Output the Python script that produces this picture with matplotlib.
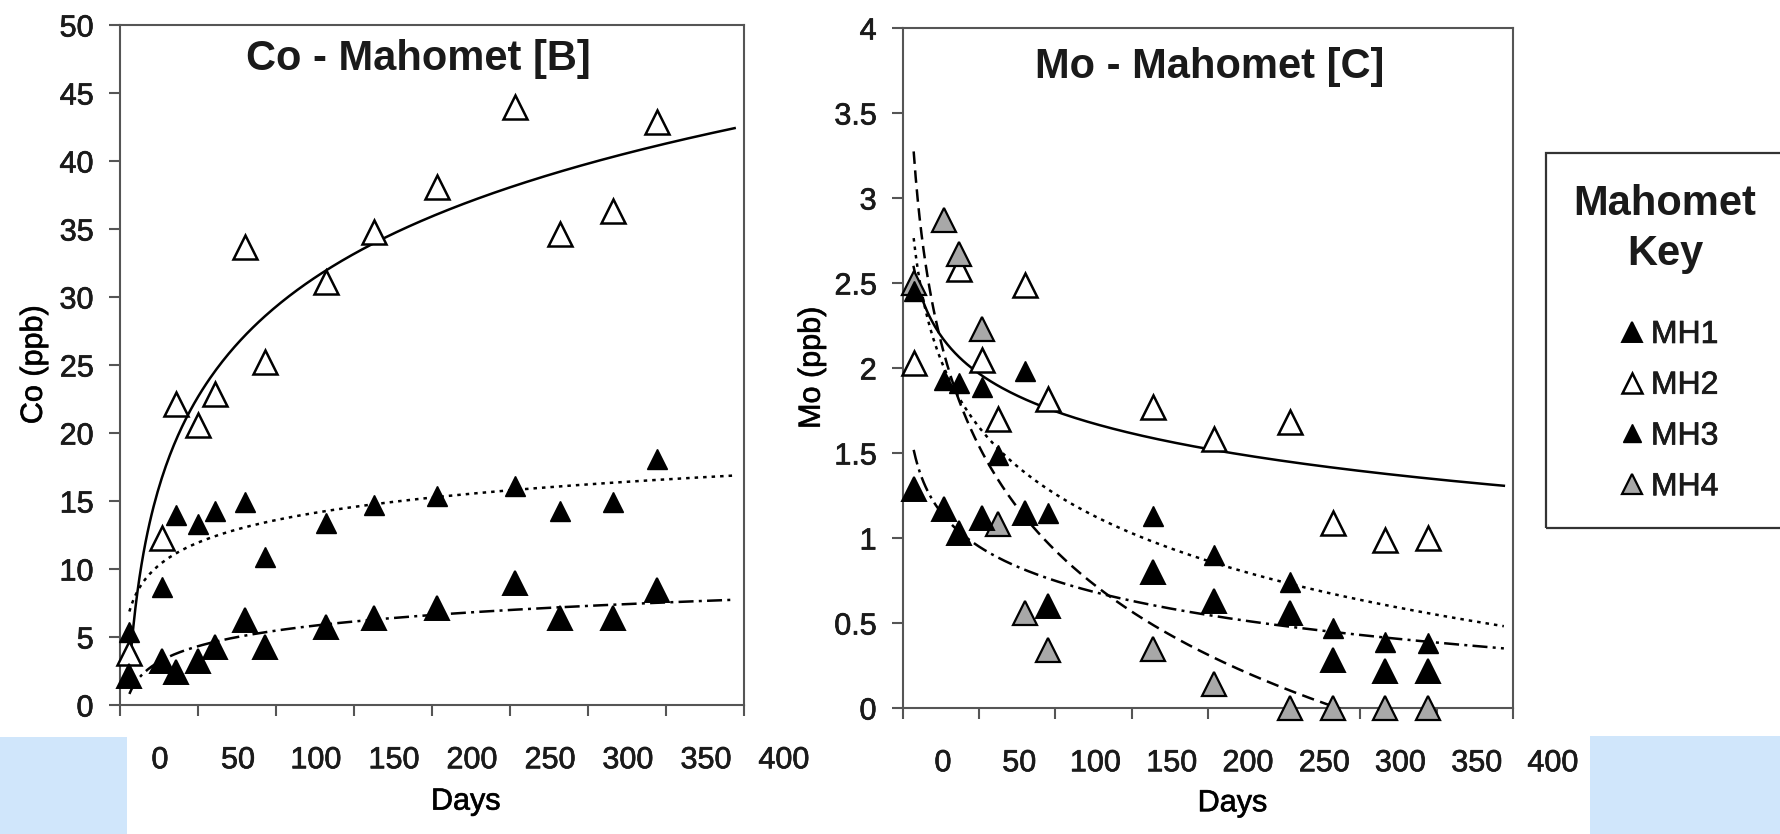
import numpy as np
import matplotlib
matplotlib.use("Agg")
import matplotlib.pyplot as plt
import matplotlib.patheffects as pe
from matplotlib.patches import Rectangle
from matplotlib.ticker import FuncFormatter
from matplotlib.transforms import ScaledTranslation

plt.rcParams["font.family"] = ["Liberation Sans", "DejaVu Sans"]
plt.rcParams["text.color"] = "#1a1a1a"

W, H, DPI = 1781, 834, 100

# sampling days and concentrations (ppb) for the Mahomet wells
co_days = np.array([6, 27, 36, 50, 61, 80, 93, 132, 163, 203, 253, 282, 316, 344])
co_mh1 = np.array([2.1, 3.2, 2.45, 3.2, 4.3, 6.25, 4.3, 5.75, 6.4, 7.1, 8.95, 6.4, 6.4, 8.45])
co_mh2 = np.array([3.8, 12.3, 22.1, 20.6, 22.9, 33.7, 25.2, 31.1, 34.8, 38.1, 44.0, 34.6, 36.3, 42.9])
co_mh3 = np.array([5.4, 8.7, 14.0, 13.3, 14.3, 14.9, 10.9, 13.4, 14.7, 15.4, 16.1, 14.3, 14.95, 18.1])

mo_days = np.array([7, 27, 37, 52, 62, 80, 95, 164, 204, 254, 282, 316, 344])
mo_mh1 = np.array([1.29, 1.17, 1.03, 1.12, np.nan, 1.15, 0.60, 0.80, 0.63, 0.56, 0.28, 0.22, 0.22])
mo_mh2 = np.array([2.03, np.nan, 2.58, 2.05, 1.70, 2.49, 1.82, 1.77, 1.58, 1.68, 1.09, 0.99, 1.00])
mo_mh3 = np.array([2.45, 1.93, 1.91, 1.89, 1.49, 1.98, 1.15, 1.13, 0.90, 0.74, 0.47, 0.39, 0.38])
mo_mh4 = np.array([2.50, 2.87, 2.67, 2.23, 1.08, 0.56, 0.34, 0.35, 0.14, 0.0, 0.0, 0.0, 0.0])

day_ticks = [0, 50, 100, 150, 200, 250, 300, 350, 400]
co_ticks = np.arange(0, 51, 5)
mo_ticks = np.arange(0, 4.01, 0.5)

# marker / trendline style per well
STYLE = {
    "MH1": dict(ms=17.5, mfc="black", mew=1.4, dashes=(6.0, 2.1, 1.2, 2.1)),
    "MH2": dict(ms=17.5, mfc="white", mew=1.8, dashes=None),
    "MH3": dict(ms=14.5, mfc="black", mew=1.0, dashes=(1.4, 2.0)),
    "MH4": dict(ms=17.5, mfc="#a8a8a8", mew=1.6, dashes=(5.0, 2.6)),
}
SPINE = "#555555"
INK = [pe.withStroke(linewidth=0.5, foreground="#1a1a1a")]


def px(x, y):
    """figure pixel (from top-left) -> figure fraction"""
    return x / W, 1 - y / H


def plot_well(ax, days, vals, name):
    st = STYLE[name]
    ok = ~np.isnan(vals)
    # logarithmic trendline fitted to the samples, extended 50 days forward
    b, a = np.polyfit(np.log(days[ok]), vals[ok], 1)
    xs = np.linspace(days[ok].min(), days[ok].max() + 50, 300)
    line, = ax.plot(xs, a + b * np.log(xs), color="black", lw=1.8, zorder=3)
    if st["dashes"]:
        line.set_dashes(st["dashes"])
    h, = ax.plot(days[ok], vals[ok], ls="none", marker="^", ms=st["ms"],
                 mfc=st["mfc"], mec="black", mew=st["mew"], zorder=4, clip_on=False)
    return h


def style_axes(ax, yticks, ylabel, title, title_xy, ylab_x, xlab_xy):
    ax.set_xlim(0, 400)
    ax.set_ylim(yticks[0], yticks[-1])
    ax.set_xticks(day_ticks)
    ax.set_xticklabels([str(d) for d in day_ticks])
    ax.set_yticks(yticks)
    ax.yaxis.set_major_formatter(FuncFormatter(lambda v, p: f"{v:g}"))
    for s in ax.spines.values():
        s.set_color(SPINE)
        s.set_linewidth(1.5)
    ax.tick_params(axis="both", direction="out", length=8, width=1.5, color=SPINE,
                   labelsize=22, labelcolor="#1a1a1a")
    ax.tick_params(axis="y", pad=11)
    ax.tick_params(axis="x", pad=21)
    # day labels sit between the tick marks
    shift = ScaledTranslation(40 / DPI, 0, ax.figure.dpi_scale_trans)
    for lab in ax.get_xticklabels():
        lab.set_transform(lab.get_transform() + shift)
    for lab in ax.get_xticklabels() + ax.get_yticklabels():
        lab.set_path_effects(INK)
    ax.set_xlabel("Days", fontsize=22, path_effects=INK)
    ax.xaxis.set_label_coords(*xlab_xy)
    ax.set_ylabel(ylabel, fontsize=22, path_effects=INK)
    ax.yaxis.set_label_coords(ylab_x, 0.5)
    ax.text(*title_xy, title, transform=ax.transAxes,
            ha="center", va="baseline", fontsize=30, fontweight="bold")


fig = plt.figure(figsize=(W / DPI, H / DPI), dpi=DPI)

x0, y0 = px(120, 705)
ax_co = fig.add_axes([x0, y0, 624 / W, 680 / H])
x1, y1 = px(903, 708)
ax_mo = fig.add_axes([x1, y1, 610 / W, 680 / H])

plot_well(ax_co, co_days, co_mh2, "MH2")
plot_well(ax_co, co_days, co_mh3, "MH3")
plot_well(ax_co, co_days, co_mh1, "MH1")
style_axes(ax_co, co_ticks, "Co (ppb)", "Co - Mahomet [B]", (0.478, 0.934),
           -0.114, (0.554, -0.12))

handles = {}
handles["MH2"] = plot_well(ax_mo, mo_days, mo_mh2, "MH2")
handles["MH4"] = plot_well(ax_mo, mo_days, mo_mh4, "MH4")
handles["MH3"] = plot_well(ax_mo, mo_days, mo_mh3, "MH3")
handles["MH1"] = plot_well(ax_mo, mo_days, mo_mh1, "MH1")
style_axes(ax_mo, mo_ticks, "Mo (ppb)", "Mo - Mahomet [C]", (0.502, 0.926),
           -0.125, (0.54, -0.118))

# key box on the right
bx, by = px(1546, 528)
fig.patches.append(Rectangle((bx, by), 300 / W, 375 / H, transform=fig.transFigure,
                             fill=False, ec="#333333", lw=1.6, clip_on=False))
tx, ty = px(1665, 229)
fig.text(tx, ty, "Mahomet\nKey", ha="center", va="center", fontsize=30,
         fontweight="bold", linespacing=1.3)
names = ["MH1", "MH2", "MH3", "MH4"]
lx, ly = px(1668, 304)
leg = fig.legend([handles[n] for n in names], names, loc="upper center",
                 bbox_to_anchor=(lx, ly), frameon=False, fontsize=23, borderpad=0,
                 handlelength=0.9, handletextpad=0.15, labelspacing=0.65,
                 markerscale=0.86)
for t in leg.get_texts():
    t.set_path_effects(INK)

# pale blue corner strips
for (l, t, r) in [(0, 737, 127), (1590, 736, W)]:
    rx, ry = px(l, H)
    fig.patches.append(Rectangle((rx, ry), (r - l) / W, (H - t) / H,
                                 transform=fig.transFigure, color="#d0e6fb",
                                 lw=0, zorder=0))

fig.savefig("out.png", dpi=DPI)
